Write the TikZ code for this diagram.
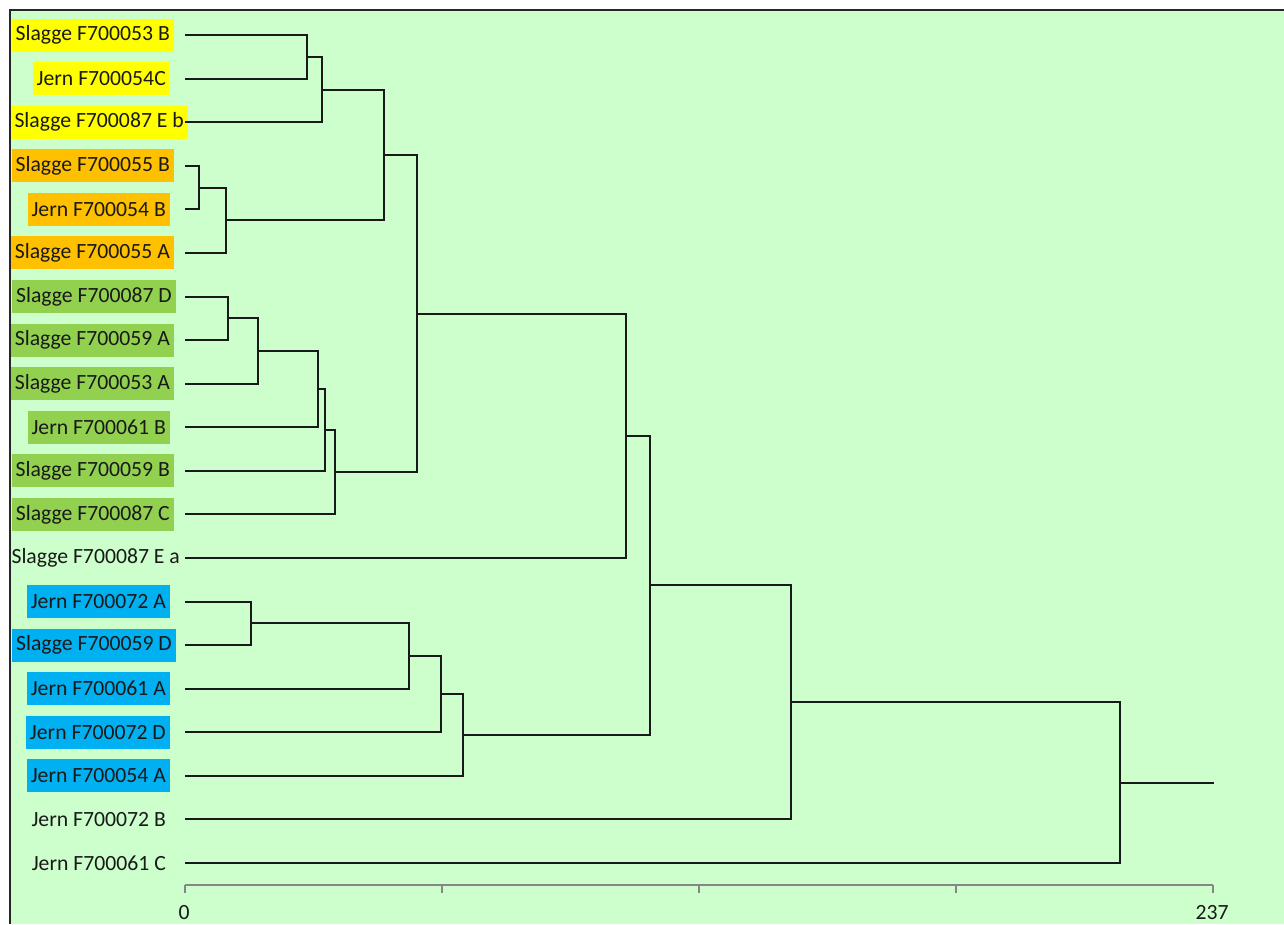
\documentclass[tikz,border=0pt]{standalone}
\usepackage{fontspec}
\setmainfont{Carlito}
\usetikzlibrary{calc}
\definecolor{bg}{HTML}{CCFFCC}
\definecolor{cyel}{HTML}{FFFF00}
\definecolor{cora}{HTML}{FFC000}
\definecolor{cgrn}{HTML}{92D050}
\definecolor{cblu}{HTML}{00B0F0}
\definecolor{axisgray}{HTML}{868686}
\tikzset{
  lab/.style={anchor=east, font=\fontsize{21.7}{24}\selectfont, inner xsep=4pt, inner ysep=0pt, minimum height=33pt, text=black!90},
  tree/.style={line width=2pt, color=black!90, line join=miter},
  axisline/.style={line width=1.6pt, color=axisgray},
  ticklab/.style={font=\fontsize{21.7}{24}\selectfont, text=black!90}
}
\begin{document}
\begin{tikzpicture}[x=1pt,y=-1pt]
\useasboundingbox (0,0) rectangle (1284,924);
\fill[white] (0,0) rectangle (1284,924);
\fill[bg] (10,10) rectangle (1284,924);
\draw[line width=2pt, black!85] (1284,10) -- (10,10) -- (10,924);

% labels
\node[lab, fill=cyel] (l1) at (174,35) {Slagge F700053 B};
\node[lab, fill=cyel] (l2) at (170,78.6) {Jern F700054C};
\node[lab, fill=cyel] (l3) at (188,122.2) {Slagge F700087 E b};
\node[lab, fill=cora] (l4) at (174,165.7) {Slagge F700055 B};
\node[lab, fill=cora] (l5) at (170,209.3) {Jern F700054 B};
\node[lab, fill=cora] (l6) at (174,252.9) {Slagge F700055 A};
\node[lab, fill=cgrn] (l7) at (176,296.5) {Slagge F700087 D};
\node[lab, fill=cgrn] (l8) at (174,340.1) {Slagge F700059 A};
\node[lab, fill=cgrn] (l9) at (174,383.6) {Slagge F700053 A};
\node[lab, fill=cgrn] (l10) at (170,427.2) {Jern F700061 B};
\node[lab, fill=cgrn] (l11) at (174,470.8) {Slagge F700059 B};
\node[lab, fill=cgrn] (l12) at (174,514.4) {Slagge F700087 C};
\node[lab] (l13) at (184,558) {Slagge F700087 E a};
\node[lab, fill=cblu] (l14) at (170,601.5) {Jern F700072 A};
\node[lab, fill=cblu] (l15) at (176,645.1) {Slagge F700059 D};
\node[lab, fill=cblu] (l16) at (170,688.7) {Jern F700061 A};
\node[lab, fill=cblu] (l17) at (170,732.3) {Jern F700072 D};
\node[lab, fill=cblu] (l18) at (170,775.9) {Jern F700054 A};
\node[lab] (l19) at (170,819.4) {Jern F700072 B};
\node[lab] (l20) at (170,863) {Jern F700061 C};

% leaf starts
\foreach \i/\y in {1/35,2/78.6,3/122.2,4/165.7,5/209.3,6/252.9,7/296.5,8/340.1,9/383.6,10/427.2,11/470.8,12/514.4,13/558,14/601.5,15/645.1,16/688.7,17/732.3,18/775.9,19/819.4,20/863}
  \coordinate (s\i) at (185,\y);

% merge points
\coordinate (m12) at (307,56.8);
\coordinate (m123) at (322,89.5);
\coordinate (m45) at (199,187.5);
\coordinate (m456) at (226,220.2);
\coordinate (mYO) at (384,154.8);
\coordinate (m78) at (228,318.3);
\coordinate (m789) at (258,351);
\coordinate (m710) at (318,389.1);
\coordinate (m711) at (325,430);
\coordinate (m712) at (335,472.2);
\coordinate (mTop) at (417,313.5);
\coordinate (mTop13) at (626,435.7);
\coordinate (m1415) at (251,623.3);
\coordinate (m1416) at (409,656);
\coordinate (m1417) at (441,694.2);
\coordinate (m1418) at (463,735);
\coordinate (mAll) at (650,585.4);
\coordinate (mAll19) at (791,702.4);
\coordinate (mRoot) at (1120,782.7);
\coordinate (rootend) at (1214,782.7);

\draw[tree] (s1) -| (m12) |- (s2);
\draw[tree] (m12) -| (m123) |- (s3);
\draw[tree] (s4) -| (m45) |- (s5);
\draw[tree] (m45) -| (m456) |- (s6);
\draw[tree] (m123) -| (mYO) |- (m456);
\draw[tree] (s7) -| (m78) |- (s8);
\draw[tree] (m78) -| (m789) |- (s9);
\draw[tree] (m789) -| (m710) |- (s10);
\draw[tree] (m710) -| (m711) |- (s11);
\draw[tree] (m711) -| (m712) |- (s12);
\draw[tree] (mYO) -| (mTop) |- (m712);
\draw[tree] (mTop) -| (mTop13) |- (s13);
\draw[tree] (s14) -| (m1415) |- (s15);
\draw[tree] (m1415) -| (m1416) |- (s16);
\draw[tree] (m1416) -| (m1417) |- (s17);
\draw[tree] (m1417) -| (m1418) |- (s18);
\draw[tree] (mTop13) -| (mAll) |- (m1418);
\draw[tree] (mAll) -| (mAll19) |- (s19);
\draw[tree] (mAll19) -| (mRoot) |- (s20);
\draw[tree] (mRoot) -- (rootend);

% axis
\coordinate (a0) at (185,885);
\coordinate (a1) at (1213,885);
\draw[axisline] (a0) -- (a1);
\foreach \x in {185,442,699,956,1213}
  \draw[axisline] (\x,885) -- (\x,893);
\node[ticklab] (t0) at (184,913) {0};
\node[ticklab] (t1) at (1212,913) {237};
\end{tikzpicture}
\end{document}
